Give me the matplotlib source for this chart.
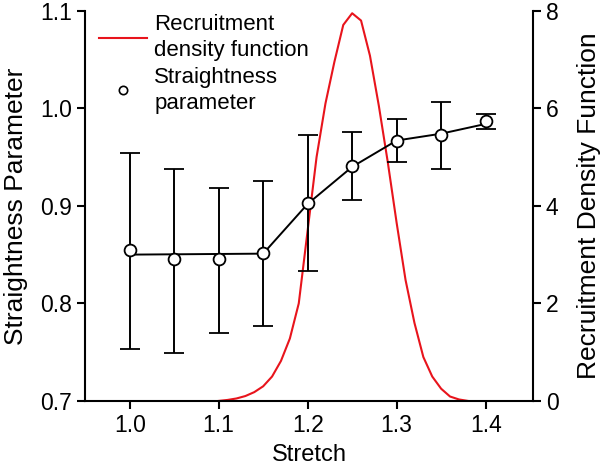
import numpy as np
import matplotlib
matplotlib.use("Agg")
import matplotlib.pyplot as plt
from matplotlib.lines import Line2D

plt.rcParams['font.family'] = ['Liberation Sans', 'DejaVu Sans']

# Straightness parameter (left axis)
stretch = [1.0, 1.05, 1.1, 1.15, 1.2, 1.25, 1.3, 1.35, 1.4]
straightness = [0.855, 0.845, 0.845, 0.852, 0.903, 0.941, 0.967, 0.973, 0.987]
err_top = [0.954, 0.938, 0.918, 0.926, 0.973, 0.976, 0.989, 1.006, 0.994]
err_bottom = [0.753, 0.749, 0.770, 0.777, 0.833, 0.906, 0.945, 0.938, 0.979]

# fitted trend line through the points
fit_x = [1.0, 1.15, 1.2, 1.25, 1.3, 1.35, 1.4]
fit_y = [0.850, 0.851, 0.902, 0.940, 0.967, 0.974, 0.984]

# Recruitment density function (right axis)
rdf_x = [1.10, 1.11, 1.12, 1.13, 1.14, 1.15, 1.16, 1.17, 1.18, 1.19,
         1.20, 1.21, 1.22, 1.23, 1.24, 1.25, 1.26, 1.27, 1.28, 1.29,
         1.30, 1.31, 1.32, 1.33, 1.34, 1.35, 1.36, 1.37, 1.38]
rdf_y = [0.00, 0.02, 0.05, 0.10, 0.18, 0.30, 0.50, 0.82, 1.28, 2.00,
         3.50, 5.00, 6.10, 6.95, 7.71, 7.95, 7.80, 7.08, 6.05, 4.90,
         3.65, 2.48, 1.60, 0.90, 0.50, 0.25, 0.09, 0.03, 0.00]

fig = plt.figure(figsize=(6, 4.7), dpi=100)
ax = fig.add_axes([0.142, 0.147, 0.746, 0.830])
ax2 = ax.twinx()

# draw density behind the data points
ax.set_zorder(ax2.get_zorder() + 1)
ax.patch.set_visible(False)

ax2.plot(rdf_x, rdf_y, color='#e8141c', lw=1.5)
ax2.set_ylim(0, 8)
ax2.set_yticks([0, 2, 4, 6, 8])
ax2.set_ylabel('Recruitment Density Function', fontsize=19, labelpad=13)

s = np.array(straightness)
yerr = [s - np.array(err_bottom), np.array(err_top) - s]
ax.plot(fit_x, fit_y, color='k', lw=1.4, zorder=2)
ax.errorbar(stretch, straightness, yerr=yerr, fmt='o', color='k', mfc='white',
            mec='k', ms=8.5, mew=1.3, elinewidth=1.4, capsize=7.5, capthick=1.4,
            zorder=3)

ax.set_xlim(0.95, 1.453)
ax.set_ylim(0.7, 1.1)
ax.set_xticks([1.0, 1.1, 1.2, 1.3, 1.4])
ax.set_yticks([0.7, 0.8, 0.9, 1.0, 1.1])
ax.set_xlabel('Stretch', fontsize=17, labelpad=5)
ax.set_ylabel('Straightness Parameter', fontsize=19, labelpad=9)

for a in (ax, ax2):
    a.spines['top'].set_visible(False)
    for sp in a.spines.values():
        sp.set_linewidth(1.5)
    a.tick_params(direction='out', length=5.5, width=1.5, labelsize=16.5, pad=4)
ax.spines['right'].set_visible(False)
ax2.spines['left'].set_visible(False)
ax2.spines['bottom'].set_visible(False)

handles = [Line2D([], [], color='#e8141c', lw=1.5),
           Line2D([], [], marker='o', ls='none', mfc='white', mec='k', ms=6, mew=1.2)]
leg = ax.legend(handles, ['Recruitment\ndensity function', 'Straightness\nparameter'],
                loc='upper left', bbox_to_anchor=(0.0, 1.025), frameon=False, fontsize=16,
                handlelength=2.2, handletextpad=0.3, labelspacing=0.25, borderaxespad=0.2)
for t in leg.get_texts():
    t.set_linespacing(1.3)

fig.savefig('out.png', dpi=100)
